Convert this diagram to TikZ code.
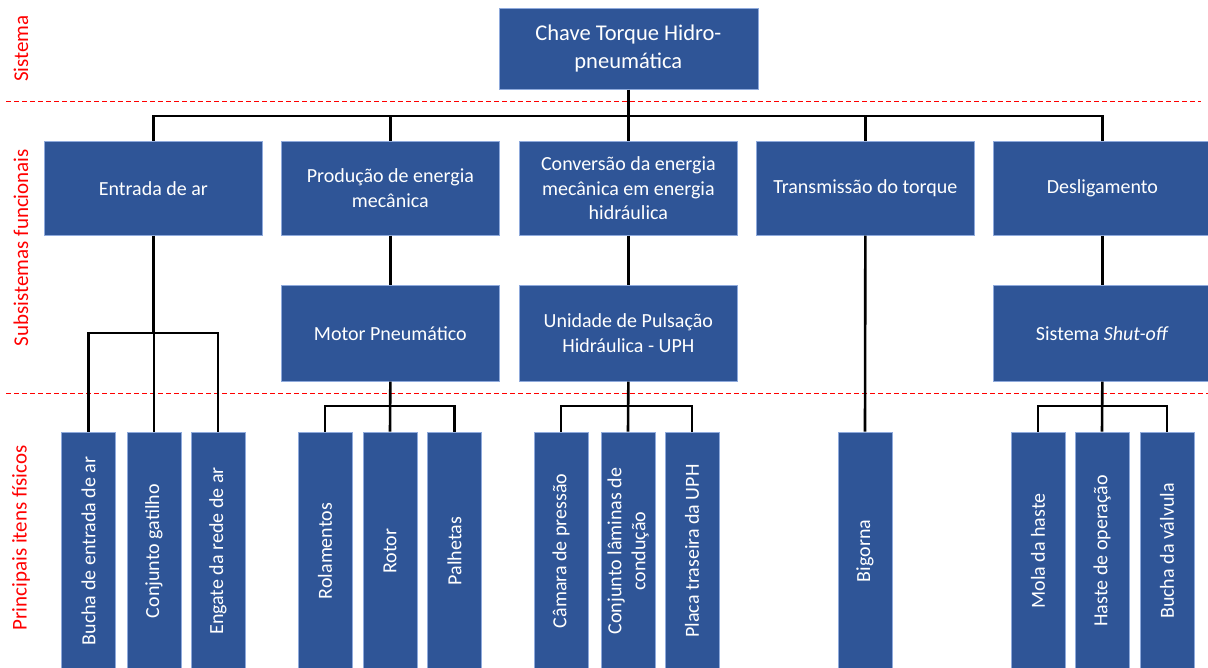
\documentclass[tikz,border=0pt]{standalone}
\usepackage{fontspec}
\setmainfont{Carlito}
\definecolor{boxblue}{RGB}{47,85,151}
\definecolor{boxedge}{RGB}{143,170,220}
\begin{document}
\begin{tikzpicture}[x=1pt,y=1pt,
  box/.style={fill=boxblue,draw=boxedge,line width=0.7pt,text=white,align=center,inner sep=0pt,anchor=north west,font=\fontsize{20}{24.5}\selectfont},
  subbox/.style={box,minimum width=218pt,minimum height=94pt},
  midbox/.style={box,minimum width=218pt,minimum height=96pt},
  leaf/.style={fill=boxblue,draw=boxedge,line width=0.7pt,text=white,align=center,inner sep=0pt,rotate=90,minimum width=238pt,minimum height=54pt,font=\fontsize{20}{24}\selectfont},
  conn/.style={line width=2.6pt,black},
  sep/.style={red,line width=1pt,dash pattern=on 5pt off 3pt},
  lvl/.style={red,rotate=90,inner sep=0pt,font=\fontsize{21}{24}\selectfont}]
\useasboundingbox (0,0) rectangle (1208,-668);

% level separators
\draw[sep] (6,-102) -- (1201,-102);
\draw[sep] (6,-393) -- (1208,-393);

% level labels
\node[lvl] (lv1) at (21,-48.5) {Sistema};
\node[lvl] (lv2) at (21,-247.5) {Subsistemas funcionais};
\node[lvl] (lv3) at (21,-538) {Principais itens físicos};

% system
\node[box,minimum width=259pt,minimum height=81pt,font=\fontsize{22.5}{28}\selectfont] (top) at (498.5,-8) {Chave Torque Hidro-\\pneumática};

% subsystems
\node[subbox] (s1) at (44,-141) {Entrada de ar};
\node[subbox] (s2) at (281,-141) {Produção de energia\\mecânica};
\node[subbox] (s3) at (519,-141) {Conversão da energia\\mecânica em energia\\hidráulica};
\node[subbox] (s4) at (756,-141) {Transmissão do torque};
\node[subbox] (s5) at (993,-141) {Desligamento};

\node[midbox] (m2) at (281,-285) {Motor Pneumático};
\node[midbox] (m3) at (519,-285) {Unidade de Pulsação\\Hidráulica - UPH};
\node[midbox] (m5) at (993,-285) {Sistema \textit{Shut-off}};

% physical items
\node[leaf] (a1) at (88.5,-551) {Bucha de entrada de ar};
\node[leaf] (a2) at (154,-551) {Conjunto gatilho};
\node[leaf] (a3) at (218,-551) {Engate da rede de ar};
\node[leaf] (b1) at (325,-551) {Rolamentos};
\node[leaf] (b2) at (390,-551) {Rotor};
\node[leaf] (b3) at (454.5,-551) {Palhetas};
\node[leaf] (c1) at (561,-551) {Câmara de pressão};
\node[leaf] (c2) at (628,-551) {Conjunto lâminas de\\condução};
\node[leaf] (c3) at (692,-551) {Placa traseira da UPH};
\node[leaf] (d1) at (865,-551) {Bigorna};
\node[leaf] (e1) at (1038,-551) {Mola da haste};
\node[leaf] (e2) at (1102,-551) {Haste de operação};
\node[leaf] (e3) at (1167,-551) {Bucha da válvula};

% bus levels
\coordinate (bus0) at (0,-116);
\coordinate (bus1) at (0,-333);
\coordinate (bus2) at (0,-406);

% connectors: system -> subsystems
\draw[conn] (top.south) -- (s3.north);
\draw[conn] (s1.north) |- (top.south |- bus0) -| (s5.north);
\draw[conn] (s2.north) -- (s2.north |- bus0);
\draw[conn] (s4.north) -- (s4.north |- bus0);

% subsystems -> components
\draw[conn] (s2.south) -- (m2.north);
\draw[conn] (s3.south) -- (m3.north);
\draw[conn] (s5.south) -- (m5.north);
\draw[conn] (s4.south) -- (d1.east);

% entrada de ar
\draw[conn] (s1.south) -- (s1.south |- bus1);
\draw[conn] (a1.east) |- (s1.south |- bus1) -| (a3.east);
\draw[conn] (a2.east) -- (a2.east |- bus1);

% motor
\draw[conn] (m2.south) -- (b2.east);
\draw[conn] (b1.east) |- (m2.south |- bus2) -| (b3.east);

% UPH
\draw[conn] (m3.south) -- (c2.east);
\draw[conn] (c1.east) |- (m3.south |- bus2) -| (c3.east);

% shut-off
\draw[conn] (m5.south) -- (e2.east);
\draw[conn] (e1.east) |- (m5.south |- bus2) -| (e3.east);
\end{tikzpicture}
\end{document}
